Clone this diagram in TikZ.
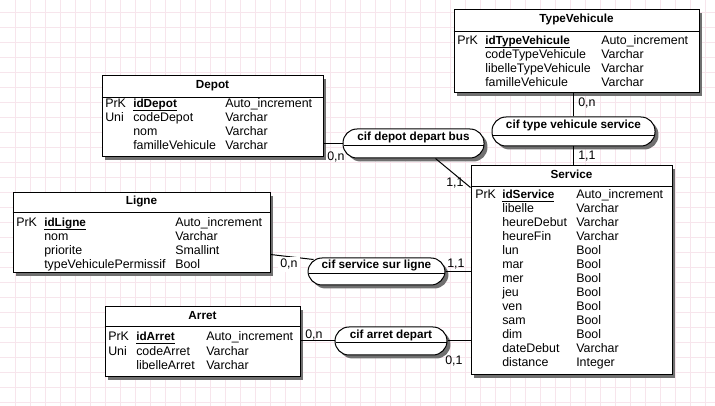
\documentclass[tikz,border=0pt]{standalone}
\usepackage{fontspec}
\setmainfont{Liberation Sans}
\usetikzlibrary{fit,calc,shadows}
\definecolor{gridc}{RGB}{247,229,236}
\definecolor{shadowc}{RGB}{112,112,112}
\newcommand\pkul[1]{\underline{\smash{#1}}}
\tikzset{
  gridl/.style={draw=gridc, line width=0.6pt},
  lnk/.style={line width=0.75pt},
  ent/.style={draw, line width=0.75pt, fill=white, inner sep=0pt,
    drop shadow={shadow xshift=2.6pt, shadow yshift=-2.6pt, fill=shadowc, opacity=1}},
  pill/.style={ent, rounded corners=10.5pt},
  ttl/.style={font=\fontsize{8.8}{10}\selectfont\bfseries, inner sep=0pt},
  att/.style={font=\fontsize{9.3}{11}\selectfont, anchor=base west, inner sep=0pt},
  pk/.style={att, font=\fontsize{8.8}{11}\selectfont\bfseries},
  card/.style={font=\fontsize{9.3}{11}\selectfont, anchor=base west, inner sep=0pt},
}
\begin{document}
\begin{tikzpicture}[x=0.75pt,y=-0.75pt]
\useasboundingbox (0,0) rectangle (715,406);
\fill[white] (0,0) rectangle (715,406);
\foreach \x in {15,30,...,705} \draw[gridl] (\x,0) -- (\x,406);
\foreach \y in {12,27,...,402} \draw[gridl] (0,\y) -- (715,\y);

% ---------- TypeVehicule ----------
\node[ent, fit={(454,10) (699,93)}] (tv) {};
\draw[lnk] ($(tv.north west)+(0,22)$) -- ($(tv.north east)+(0,22)$);
\node[ttl] (tv-t) at ($(tv.north)+(0,10)$) {TypeVehicule};
\node[att] (tv-k) at (457,45) {PrK};
\node[pk] (tv-n1) at (485,45) {\pkul{idTypeVehicule}};
\node[att] (tv-y1) at (601,45) {Auto\_increment};
\foreach \n/\t [count=\i] in {codeTypeVehicule/Varchar, libelleTypeVehicule/Varchar, familleVehicule/Varchar}{
  \node[att] (tv-n\i x) at (485,{45+14*\i}) {\n};
  \node[att] (tv-y\i x) at (601,{45+14*\i}) {\t};
}

% ---------- Depot ----------
\node[ent, fit={(102,76) (323,157)}] (depot) {};
\draw[lnk] ($(depot.north west)+(0,22)$) -- ($(depot.north east)+(0,22)$);
\node[ttl] (depot-t) at ($(depot.north)+(0,10)$) {Depot};
\node[att] (depot-k) at (105,108) {PrK};
\node[att] (depot-u) at (105,122) {Uni};
\node[pk] (depot-n1) at (133,108) {\pkul{idDepot}};
\node[att] (depot-y1) at (225,108) {Auto\_increment};
\foreach \n/\t [count=\i] in {codeDepot/Varchar, nom/Varchar, familleVehicule/Varchar}{
  \node[att] (depot-n\i x) at (133,{108+14*\i}) {\n};
  \node[att] (depot-y\i x) at (225,{108+14*\i}) {\t};
}

% ---------- Service ----------
\node[ent, fit={(471,166) (672,375)}] (service) {};
\draw[lnk] ($(service.north west)+(0,21)$) -- ($(service.north east)+(0,21)$);
\node[ttl] (service-t) at ($(service.north)+(0,9)$) {Service};
\node[att] (service-k) at (475,199) {PrK};
\node[pk] (service-n0) at (502,199) {\pkul{idService}};
\node[att] (service-y0) at (576,199) {Auto\_increment};
\foreach \n/\t [count=\i] in {libelle/Varchar, heureDebut/Varchar, heureFin/Varchar, lun/Bool, mar/Bool, mer/Bool, jeu/Bool, ven/Bool, sam/Bool, dim/Bool, dateDebut/Varchar, distance/Integer}{
  \node[att] (service-n\i) at (502,{199+14*\i}) {\n};
  \node[att] (service-y\i) at (576,{199+14*\i}) {\t};
}

% ---------- Ligne ----------
\node[ent, fit={(13,193) (270,273)}] (ligne) {};
\draw[lnk] ($(ligne.north west)+(0,20)$) -- ($(ligne.north east)+(0,20)$);
\node[ttl] (ligne-t) at ($(ligne.north)+(0,9)$) {Ligne};
\node[att] (ligne-k) at (16,227) {PrK};
\node[pk] (ligne-n0) at (44,227) {\pkul{idLigne}};
\node[att] (ligne-y0) at (175,227) {Auto\_increment};
\foreach \n/\t [count=\i] in {nom/Varchar, priorite/Smallint, typeVehiculePermissif/Bool}{
  \node[att] (ligne-n\i) at (44,{227+14*\i}) {\n};
  \node[att] (ligne-y\i) at (175,{227+14*\i}) {\t};
}

% ---------- Arret ----------
\node[ent, fit={(105,307) (300,377)}] (arret) {};
\draw[lnk] ($(arret.north west)+(0,20)$) -- ($(arret.north east)+(0,20)$);
\node[ttl] (arret-t) at ($(arret.north)+(0,9)$) {Arret};
\node[att] (arret-k) at (108,341) {PrK};
\node[att] (arret-u) at (108,355) {Uni};
\node[pk] (arret-n0) at (136,341) {\pkul{idArret}};
\node[att] (arret-y0) at (206,341) {Auto\_increment};
\foreach \n/\t [count=\i] in {codeArret/Varchar, libelleArret/Varchar}{
  \node[att] (arret-n\i) at (136,{341+14*\i}) {\n};
  \node[att] (arret-y\i) at (206,{341+14*\i}) {\t};
}

% ---------- associations ----------
\node[pill, fit={(343,129) (484,158)}] (cdb) {};
\draw[lnk] ($(cdb.north west)+(1,17)$) -- ($(cdb.north east)+(-1,17)$);
\node[ttl] (cdb-t) at ($(cdb.north)+(0,9)$) {cif depot depart bus};

\node[pill, fit={(492,117) (655,146)}] (ctvs) {};
\draw[lnk] ($(ctvs.north west)+(1,19)$) -- ($(ctvs.north east)+(-1,19)$);
\node[ttl] (ctvs-t) at ($(ctvs.north)+(0,9)$) {cif type vehicule service};

\node[pill, fit={(308,258) (445,285)}] (cssl) {};
\draw[lnk] ($(cssl.north west)+(1,16)$) -- ($(cssl.north east)+(-1,16)$);
\node[ttl] (cssl-t) at ($(cssl.north)+(0,8)$) {cif service sur ligne};

\node[pill, fit={(335,327) (447,355)}] (cad) {};
\draw[lnk] ($(cad.north west)+(1,16)$) -- ($(cad.north east)+(-1,16)$);
\node[ttl] (cad-t) at ($(cad.north)+(0,9)$) {cif arret depart};

% ---------- connectors ----------
\draw[lnk] (cdb.west) -- (cdb.west -| depot.east);
\draw[lnk] ($(cdb.south)+(22,0)$) -- ($(service.north west)+(0,22)$);
\draw[lnk] (ctvs.north) -- (ctvs.north |- tv.south);
\draw[lnk] (ctvs.south) -- (ctvs.south |- service.north);
\draw[lnk] ($(ligne.north east)+(0,62)$) -- ($(cssl.west)+(6,-12)$);
\draw[lnk] (cssl.east) -- (cssl.east -| service.west);
\draw[lnk] (cad.west) -- (cad.west -| arret.east);
\draw[lnk] (cad.east) -- (cad.east -| service.west);

% ---------- cardinalities ----------
\node[card] (c1) at (327,161) {0,n};
\node[card] (c2) at (446,187) {1,1};
\node[card] (c3) at (578,107) {0,n};
\node[card] (c4) at (578,160) {1,1};
\node[card, fill=white, inner xsep=1.5pt, inner ysep=2pt] (c5) at (278,268) {0,n};
\node[card] (c6) at (447,268) {1,1};
\node[card] (c7) at (305,339) {0,n};
\node[card] (c8) at (445,365) {0,1};
\end{tikzpicture}
\end{document}
